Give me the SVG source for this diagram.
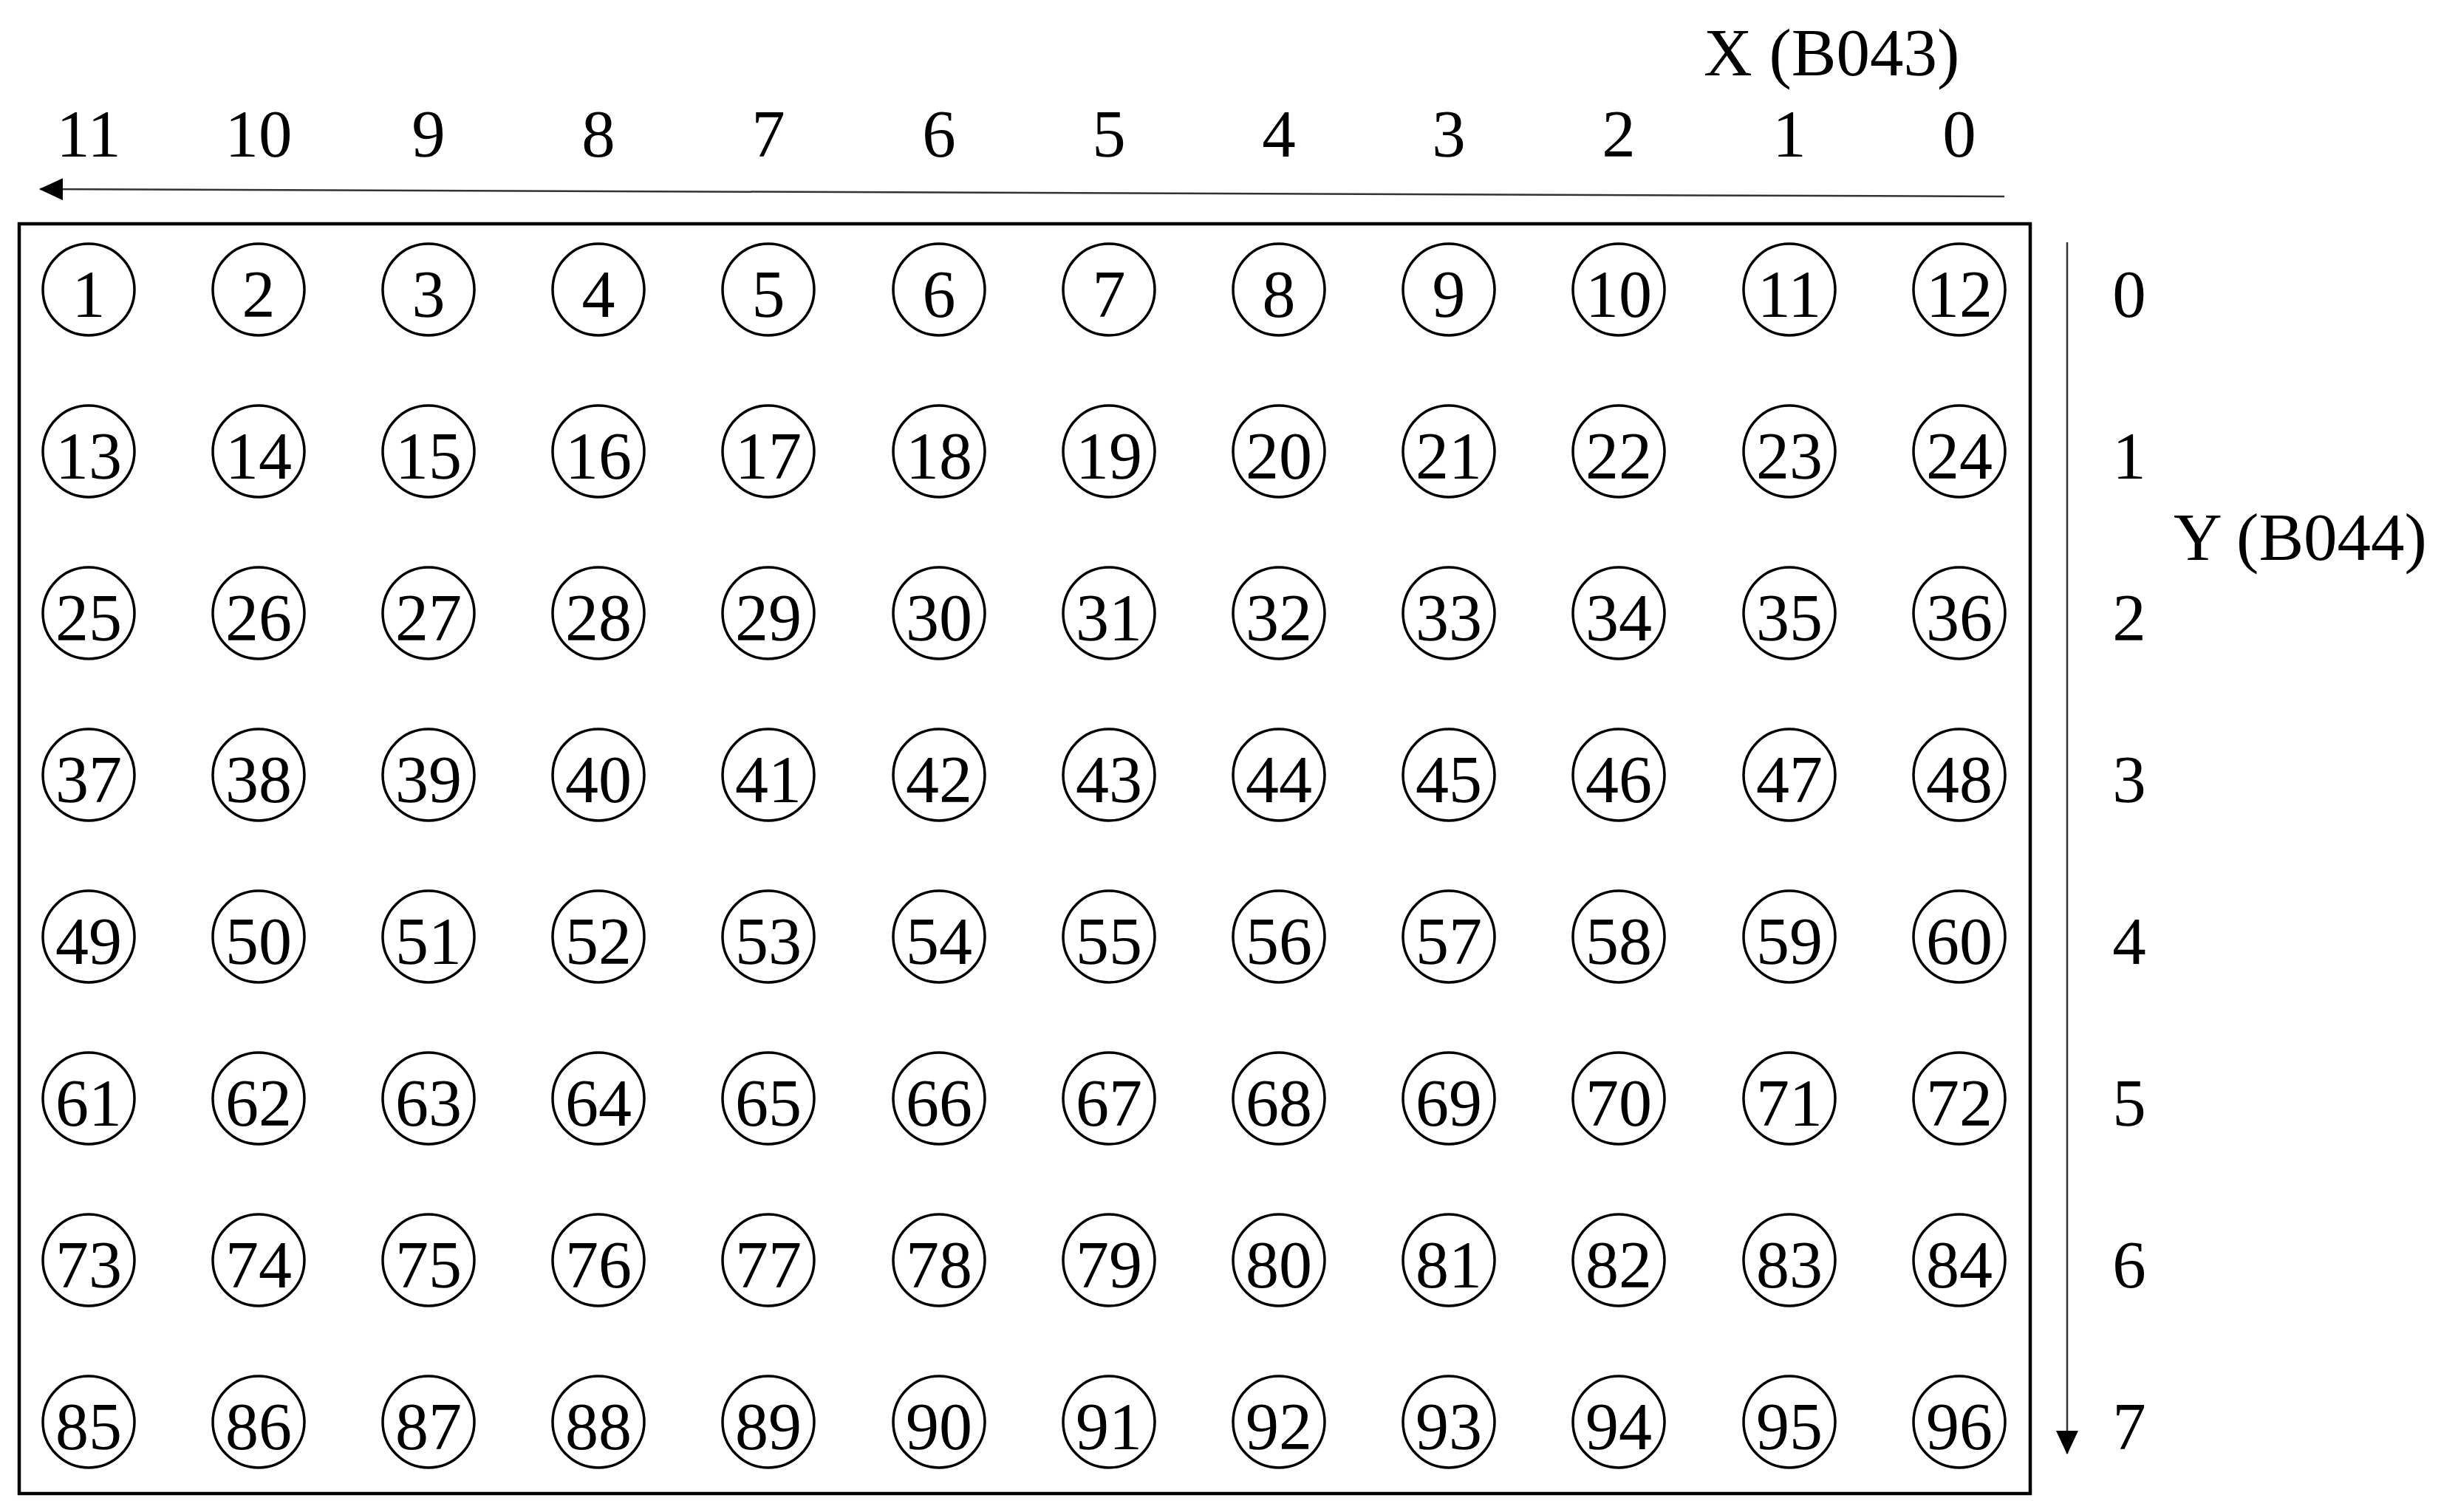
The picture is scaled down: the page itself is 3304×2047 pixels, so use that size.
<svg xmlns="http://www.w3.org/2000/svg" width="3304" height="2047" viewBox="0 0 3304 2047">
<style>
text{font-family:"Liberation Serif","Times New Roman",serif;fill:#000}
.n circle{fill:none;stroke:#000;stroke-width:3.5}
.n text{font-size:90px;text-anchor:middle}
.lbl{font-size:91px;text-anchor:middle}
.ttl{font-size:91px}
.frame{fill:none;stroke:#000;stroke-width:4.5}
.ax{stroke:#333;stroke-width:2.5;fill:none}
</style>
<defs>
<marker id="ah" viewBox="0 0 32 30" refX="31" refY="15" markerWidth="32" markerHeight="30" markerUnits="userSpaceOnUse" orient="auto">
<path d="M0,0 L32,15 L0,30 Z" fill="#000"/>
</marker>
</defs>
<rect id="frame" class="frame" x="26" y="303" width="2722" height="1719"/>
<g id="axes">
<line class="ax" x1="2713" y1="266" x2="54" y2="256" marker-end="url(#ah)"/>
<line class="ax" x1="2798" y1="328" x2="2798" y2="1968" marker-end="url(#ah)"/>
</g>
<g id="axis-labels">
<text class="ttl" x="2306" y="102">X (B043)</text>
<text class="ttl" x="2942" y="758">Y (B044)</text>
<text class="lbl" x="120" y="212">11</text>
<text class="lbl" x="350" y="212">10</text>
<text class="lbl" x="580" y="212">9</text>
<text class="lbl" x="810" y="212">8</text>
<text class="lbl" x="1040" y="212">7</text>
<text class="lbl" x="1271" y="212">6</text>
<text class="lbl" x="1501" y="212">5</text>
<text class="lbl" x="1731" y="212">4</text>
<text class="lbl" x="1961" y="212">3</text>
<text class="lbl" x="2191" y="212">2</text>
<text class="lbl" x="2422" y="212">1</text>
<text class="lbl" x="2652" y="212">0</text>
<text class="lbl" x="2882" y="429">0</text>
<text class="lbl" x="2882" y="648">1</text>
<text class="lbl" x="2882" y="867">2</text>
<text class="lbl" x="2882" y="1086">3</text>
<text class="lbl" x="2882" y="1305">4</text>
<text class="lbl" x="2882" y="1524">5</text>
<text class="lbl" x="2882" y="1743">6</text>
<text class="lbl" x="2882" y="1962">7</text>
</g>
<g id="n1" class="n" transform="translate(120,392)"><circle r="62"/><text y="37">1</text></g>
<g id="n2" class="n" transform="translate(350,392)"><circle r="62"/><text y="37">2</text></g>
<g id="n3" class="n" transform="translate(580,392)"><circle r="62"/><text y="37">3</text></g>
<g id="n4" class="n" transform="translate(810,392)"><circle r="62"/><text y="37">4</text></g>
<g id="n5" class="n" transform="translate(1040,392)"><circle r="62"/><text y="37">5</text></g>
<g id="n6" class="n" transform="translate(1271,392)"><circle r="62"/><text y="37">6</text></g>
<g id="n7" class="n" transform="translate(1501,392)"><circle r="62"/><text y="37">7</text></g>
<g id="n8" class="n" transform="translate(1731,392)"><circle r="62"/><text y="37">8</text></g>
<g id="n9" class="n" transform="translate(1961,392)"><circle r="62"/><text y="37">9</text></g>
<g id="n10" class="n" transform="translate(2191,392)"><circle r="62"/><text y="37">10</text></g>
<g id="n11" class="n" transform="translate(2422,392)"><circle r="62"/><text y="37">11</text></g>
<g id="n12" class="n" transform="translate(2652,392)"><circle r="62"/><text y="37">12</text></g>
<g id="n13" class="n" transform="translate(120,611)"><circle r="62"/><text y="37">13</text></g>
<g id="n14" class="n" transform="translate(350,611)"><circle r="62"/><text y="37">14</text></g>
<g id="n15" class="n" transform="translate(580,611)"><circle r="62"/><text y="37">15</text></g>
<g id="n16" class="n" transform="translate(810,611)"><circle r="62"/><text y="37">16</text></g>
<g id="n17" class="n" transform="translate(1040,611)"><circle r="62"/><text y="37">17</text></g>
<g id="n18" class="n" transform="translate(1271,611)"><circle r="62"/><text y="37">18</text></g>
<g id="n19" class="n" transform="translate(1501,611)"><circle r="62"/><text y="37">19</text></g>
<g id="n20" class="n" transform="translate(1731,611)"><circle r="62"/><text y="37">20</text></g>
<g id="n21" class="n" transform="translate(1961,611)"><circle r="62"/><text y="37">21</text></g>
<g id="n22" class="n" transform="translate(2191,611)"><circle r="62"/><text y="37">22</text></g>
<g id="n23" class="n" transform="translate(2422,611)"><circle r="62"/><text y="37">23</text></g>
<g id="n24" class="n" transform="translate(2652,611)"><circle r="62"/><text y="37">24</text></g>
<g id="n25" class="n" transform="translate(120,830)"><circle r="62"/><text y="37">25</text></g>
<g id="n26" class="n" transform="translate(350,830)"><circle r="62"/><text y="37">26</text></g>
<g id="n27" class="n" transform="translate(580,830)"><circle r="62"/><text y="37">27</text></g>
<g id="n28" class="n" transform="translate(810,830)"><circle r="62"/><text y="37">28</text></g>
<g id="n29" class="n" transform="translate(1040,830)"><circle r="62"/><text y="37">29</text></g>
<g id="n30" class="n" transform="translate(1271,830)"><circle r="62"/><text y="37">30</text></g>
<g id="n31" class="n" transform="translate(1501,830)"><circle r="62"/><text y="37">31</text></g>
<g id="n32" class="n" transform="translate(1731,830)"><circle r="62"/><text y="37">32</text></g>
<g id="n33" class="n" transform="translate(1961,830)"><circle r="62"/><text y="37">33</text></g>
<g id="n34" class="n" transform="translate(2191,830)"><circle r="62"/><text y="37">34</text></g>
<g id="n35" class="n" transform="translate(2422,830)"><circle r="62"/><text y="37">35</text></g>
<g id="n36" class="n" transform="translate(2652,830)"><circle r="62"/><text y="37">36</text></g>
<g id="n37" class="n" transform="translate(120,1049)"><circle r="62"/><text y="37">37</text></g>
<g id="n38" class="n" transform="translate(350,1049)"><circle r="62"/><text y="37">38</text></g>
<g id="n39" class="n" transform="translate(580,1049)"><circle r="62"/><text y="37">39</text></g>
<g id="n40" class="n" transform="translate(810,1049)"><circle r="62"/><text y="37">40</text></g>
<g id="n41" class="n" transform="translate(1040,1049)"><circle r="62"/><text y="37">41</text></g>
<g id="n42" class="n" transform="translate(1271,1049)"><circle r="62"/><text y="37">42</text></g>
<g id="n43" class="n" transform="translate(1501,1049)"><circle r="62"/><text y="37">43</text></g>
<g id="n44" class="n" transform="translate(1731,1049)"><circle r="62"/><text y="37">44</text></g>
<g id="n45" class="n" transform="translate(1961,1049)"><circle r="62"/><text y="37">45</text></g>
<g id="n46" class="n" transform="translate(2191,1049)"><circle r="62"/><text y="37">46</text></g>
<g id="n47" class="n" transform="translate(2422,1049)"><circle r="62"/><text y="37">47</text></g>
<g id="n48" class="n" transform="translate(2652,1049)"><circle r="62"/><text y="37">48</text></g>
<g id="n49" class="n" transform="translate(120,1268)"><circle r="62"/><text y="37">49</text></g>
<g id="n50" class="n" transform="translate(350,1268)"><circle r="62"/><text y="37">50</text></g>
<g id="n51" class="n" transform="translate(580,1268)"><circle r="62"/><text y="37">51</text></g>
<g id="n52" class="n" transform="translate(810,1268)"><circle r="62"/><text y="37">52</text></g>
<g id="n53" class="n" transform="translate(1040,1268)"><circle r="62"/><text y="37">53</text></g>
<g id="n54" class="n" transform="translate(1271,1268)"><circle r="62"/><text y="37">54</text></g>
<g id="n55" class="n" transform="translate(1501,1268)"><circle r="62"/><text y="37">55</text></g>
<g id="n56" class="n" transform="translate(1731,1268)"><circle r="62"/><text y="37">56</text></g>
<g id="n57" class="n" transform="translate(1961,1268)"><circle r="62"/><text y="37">57</text></g>
<g id="n58" class="n" transform="translate(2191,1268)"><circle r="62"/><text y="37">58</text></g>
<g id="n59" class="n" transform="translate(2422,1268)"><circle r="62"/><text y="37">59</text></g>
<g id="n60" class="n" transform="translate(2652,1268)"><circle r="62"/><text y="37">60</text></g>
<g id="n61" class="n" transform="translate(120,1487)"><circle r="62"/><text y="37">61</text></g>
<g id="n62" class="n" transform="translate(350,1487)"><circle r="62"/><text y="37">62</text></g>
<g id="n63" class="n" transform="translate(580,1487)"><circle r="62"/><text y="37">63</text></g>
<g id="n64" class="n" transform="translate(810,1487)"><circle r="62"/><text y="37">64</text></g>
<g id="n65" class="n" transform="translate(1040,1487)"><circle r="62"/><text y="37">65</text></g>
<g id="n66" class="n" transform="translate(1271,1487)"><circle r="62"/><text y="37">66</text></g>
<g id="n67" class="n" transform="translate(1501,1487)"><circle r="62"/><text y="37">67</text></g>
<g id="n68" class="n" transform="translate(1731,1487)"><circle r="62"/><text y="37">68</text></g>
<g id="n69" class="n" transform="translate(1961,1487)"><circle r="62"/><text y="37">69</text></g>
<g id="n70" class="n" transform="translate(2191,1487)"><circle r="62"/><text y="37">70</text></g>
<g id="n71" class="n" transform="translate(2422,1487)"><circle r="62"/><text y="37">71</text></g>
<g id="n72" class="n" transform="translate(2652,1487)"><circle r="62"/><text y="37">72</text></g>
<g id="n73" class="n" transform="translate(120,1706)"><circle r="62"/><text y="37">73</text></g>
<g id="n74" class="n" transform="translate(350,1706)"><circle r="62"/><text y="37">74</text></g>
<g id="n75" class="n" transform="translate(580,1706)"><circle r="62"/><text y="37">75</text></g>
<g id="n76" class="n" transform="translate(810,1706)"><circle r="62"/><text y="37">76</text></g>
<g id="n77" class="n" transform="translate(1040,1706)"><circle r="62"/><text y="37">77</text></g>
<g id="n78" class="n" transform="translate(1271,1706)"><circle r="62"/><text y="37">78</text></g>
<g id="n79" class="n" transform="translate(1501,1706)"><circle r="62"/><text y="37">79</text></g>
<g id="n80" class="n" transform="translate(1731,1706)"><circle r="62"/><text y="37">80</text></g>
<g id="n81" class="n" transform="translate(1961,1706)"><circle r="62"/><text y="37">81</text></g>
<g id="n82" class="n" transform="translate(2191,1706)"><circle r="62"/><text y="37">82</text></g>
<g id="n83" class="n" transform="translate(2422,1706)"><circle r="62"/><text y="37">83</text></g>
<g id="n84" class="n" transform="translate(2652,1706)"><circle r="62"/><text y="37">84</text></g>
<g id="n85" class="n" transform="translate(120,1925)"><circle r="62"/><text y="37">85</text></g>
<g id="n86" class="n" transform="translate(350,1925)"><circle r="62"/><text y="37">86</text></g>
<g id="n87" class="n" transform="translate(580,1925)"><circle r="62"/><text y="37">87</text></g>
<g id="n88" class="n" transform="translate(810,1925)"><circle r="62"/><text y="37">88</text></g>
<g id="n89" class="n" transform="translate(1040,1925)"><circle r="62"/><text y="37">89</text></g>
<g id="n90" class="n" transform="translate(1271,1925)"><circle r="62"/><text y="37">90</text></g>
<g id="n91" class="n" transform="translate(1501,1925)"><circle r="62"/><text y="37">91</text></g>
<g id="n92" class="n" transform="translate(1731,1925)"><circle r="62"/><text y="37">92</text></g>
<g id="n93" class="n" transform="translate(1961,1925)"><circle r="62"/><text y="37">93</text></g>
<g id="n94" class="n" transform="translate(2191,1925)"><circle r="62"/><text y="37">94</text></g>
<g id="n95" class="n" transform="translate(2422,1925)"><circle r="62"/><text y="37">95</text></g>
<g id="n96" class="n" transform="translate(2652,1925)"><circle r="62"/><text y="37">96</text></g>
</svg>
